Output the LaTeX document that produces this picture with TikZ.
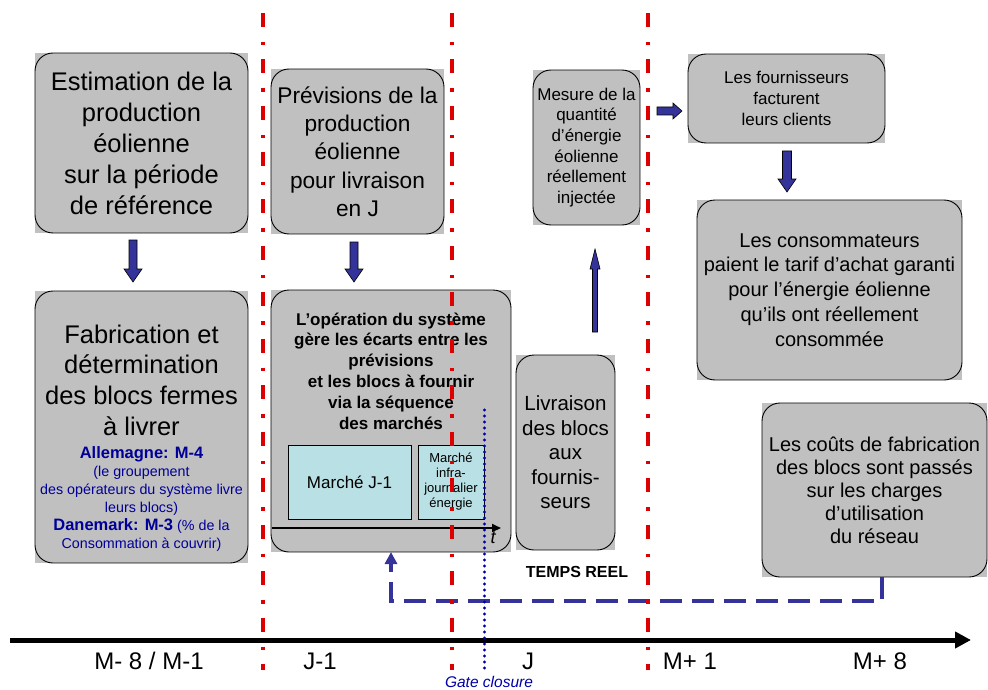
\documentclass[tikz,border=0pt]{standalone}
\usepackage{fontspec}
\setmainfont{Liberation Sans}
\usetikzlibrary{arrows.meta,calc,backgrounds}
\definecolor{boxgray}{RGB}{192,192,192}
\definecolor{cyanbox}{RGB}{185,224,228}
\definecolor{arrblue}{RGB}{51,51,153}
\definecolor{txtblue}{RGB}{0,0,153}
\definecolor{dotblue}{RGB}{0,0,170}
\definecolor{redl}{RGB}{220,0,0}
\newcommand\setfs[2]{\fontsize{#1}{#2}\selectfont}
\newcommand\graybg[1]{\begin{scope}[on background layer]\fill[boxgray] (#1.south west) rectangle (#1.north east);\end{scope}}
\newcommand\blockarrow[5]{%
  \coordinate (bh) at ($(#2)!#5!(#1)$);
  \draw[blockarr] ($(#1)!#3!90:(#2)$) -- ($(bh)!#3!90:(#2)$) -- ($(bh)!#4!90:(#2)$) -- (#2) -- ($(bh)!#4!-90:(#2)$) -- ($(bh)!#3!-90:(#2)$) -- ($(#1)!#3!-90:(#2)$) -- cycle;}
\begin{document}
\begin{tikzpicture}[x=1pt,y=-1pt,
  box/.style={draw=black, line width=0.9pt, rounded corners=18pt, inner sep=0pt, outer sep=0pt, align=center},
  blockarr/.style={draw=black, line width=0.6pt, fill=arrblue, line join=miter},
  mbox/.style={draw=black, line width=0.8pt, fill=cyanbox, inner sep=0pt, outer sep=0pt, align=center},
  redline/.style={draw=redl, line width=4pt, dash pattern=on 14pt off 15pt on 3.5pt off 14pt},
  fbline/.style={draw=arrblue, line width=4pt, dash pattern=on 22pt off 10pt, -{Triangle[width=12pt,length=12pt]}},
  axislbl/.style={font=\setfs{24}{26}, inner sep=0pt}]
\useasboundingbox (0,0) rectangle (988,690);

% boxes
\node[box, minimum width=213pt, minimum height=180pt, font=\setfs{25.5}{31}] (E) at (141.5,143) {Estimation de la\\production\\éolienne\\sur la période\\de référence};
\graybg{E}
\node[box, minimum width=213pt, minimum height=272pt] (F) at (141.5,427) {};
\graybg{F}
\node[font=\setfs{25.5}{30.7}, align=center, inner sep=0pt] (Ft) at (141.5,380) {Fabrication et\\détermination\\des blocs fermes\\à livrer};
\node[font=\setfs{14.3}{18}, text=txtblue, align=center, inner sep=0pt] (Fs) at (141.5,499) {{\bfseries\setfs{16.5}{18}Allemagne: M-4}\\(le groupement\\des opérateurs du système livre\\leurs blocs)\\{\bfseries\setfs{16.5}{18}Danemark: M-3} (\% de la\\Consommation à couvrir)};

\node[box, minimum width=173pt, minimum height=165pt, font=\setfs{22.7}{28.3}] (P) at (357.5,151.5) {Prévisions de la\\production\\éolienne\\pour livraison\\en J};
\graybg{P}

\node[box, minimum width=240pt, minimum height=262pt] (O) at (391,421) {};
\graybg{O}
\node[font=\bfseries\setfs{17}{20.8}, align=center, inner sep=0pt] (Ot) at (391,371) {L’opération du système\\gère les écarts entre les\\prévisions\\et les blocs à fournir\\via la séquence\\des marchés};
\node[mbox, minimum width=123pt, minimum height=74pt, font=\setfs{17}{20}] (MJ) at (349.5,482) {Marché J-1};
\node[mbox, minimum width=66pt, minimum height=74pt, font=\setfs{13}{15}] (MI) at (451,482) {Marché\\infra-\\journalier\\énergie};
\draw[line width=2pt, -{Triangle[width=8pt,length=9pt]}] (272,528) -- (501,528);
\node[font=\itshape\setfs{18}{20}, inner sep=0pt] (tt) at (493,538) {t};

\node[box, minimum width=99pt, minimum height=195pt, font=\setfs{20.5}{24.5}] (L) at (565.5,452.5) {Livraison\\des blocs\\aux\\fournis-\\seurs};
\graybg{L}
\node[box, minimum width=107pt, minimum height=155pt, font=\setfs{17}{20.7}] (M) at (586.5,147.5) {Mesure de la\\quantité\\d’énergie\\éolienne\\réellement\\injectée};
\graybg{M}
\node[box, minimum width=197pt, minimum height=89pt, font=\setfs{17}{21}] (Fo) at (786.5,98.5) {Les fournisseurs\\facturent\\leurs clients};
\graybg{Fo}
\node[box, minimum width=265pt, minimum height=180pt, font=\setfs{20}{24.8}] (C) at (829.5,290) {Les consommateurs\\paient le tarif d’achat garanti\\pour l’énergie éolienne\\qu’ils ont réellement\\consommée};
\graybg{C}
\node[box, minimum width=225pt, minimum height=174pt, font=\setfs{20}{23}] (Co) at (874.5,490) {Les coûts de fabrication\\des blocs sont passés\\sur les charges\\d’utilisation\\du réseau};
\graybg{Co}

\node[font=\bfseries\setfs{16}{18}, inner sep=0pt] (tr) at (577,572) {TEMPS REEL};

% block arrows
\coordinate (a1s) at ([xshift=-8.5pt,yshift=-7pt]E.south);
\coordinate (a1e) at ([xshift=-8.5pt,yshift=9pt]F.north);
\blockarrow{a1s}{a1e}{4pt}{9pt}{13pt}
\coordinate (a2s) at ([xshift=-3.5pt,yshift=-8pt]P.south);
\coordinate (a2e) at ([xshift=-37pt,yshift=8pt]O.north);
\blockarrow{a2s}{a2e}{4pt}{9pt}{13pt}
\coordinate (a3s) at ([xshift=0.5pt,yshift=-8pt]Fo.south);
\coordinate (a3e) at ([xshift=-42.5pt,yshift=8pt]C.north);
\blockarrow{a3s}{a3e}{4.5pt}{9pt}{13pt}
\coordinate (a4s) at ([xshift=17pt,yshift=36.5pt]M.east);
\coordinate (a4e) at ([xshift=-6pt,yshift=-12.5pt]Fo.west);
\blockarrow{a4s}{a4e}{4pt}{8pt}{9pt}
\coordinate (a5s) at ([xshift=29.5pt,yshift=23pt]L.north);
\coordinate (a5e) at ([xshift=8.5pt,yshift=-24pt]M.south);
\blockarrow{a5s}{a5e}{2.5pt}{5pt}{20pt}

% axis
\draw[line width=5pt, -{Triangle[width=16pt,length=16pt]}] (10,640) -- (971,640);

% feedback
\draw[fbline] ([xshift=7.5pt]Co.south) |- ([yshift=-49pt]O.south) -- (O.south);

% red separators
\foreach \x in {263,452,648} \draw[redline] (\x,13) -- (\x,670);

% gate closure
\foreach \y in {410,416,...,672} \fill[dotblue] (484.5,\y) circle (1.6pt);
\node[font=\itshape\setfs{15.5}{17}, text=dotblue, inner sep=0pt] (gc) at (489,682) {Gate closure};

% axis labels
\node[axislbl] (l1) at (149,661) {M- 8 / M-1};
\node[axislbl] (l2) at (320,661) {J-1};
\node[axislbl] (l3) at (528,661) {J};
\node[axislbl] (l4) at (690,661) {M+ 1};
\node[axislbl] (l5) at (880,661) {M+ 8};
\end{tikzpicture}
\end{document}
